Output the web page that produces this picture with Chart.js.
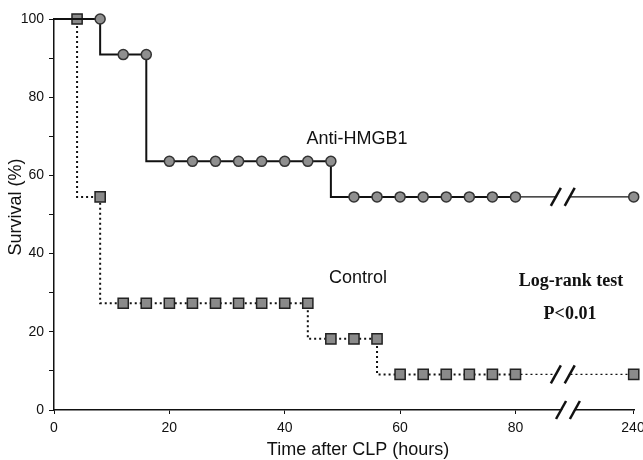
<!DOCTYPE html>
<html>
<head>
<meta charset="utf-8">
<script src="https://cdn.jsdelivr.net/npm/chart.js@4.4.1/dist/chart.umd.min.js"></script>
<style>
  html, body { margin: 0; padding: 0; background: #fff; overflow: hidden; }
  #graph { display: block; }
</style>
</head>
<body>
<canvas id="graph" width="643" height="460"></canvas>
<script>
// survival data (time in hours, survival in %)
const antiTimes = [0, 8, 12, 16, 20, 24, 28, 32, 36, 40, 44, 48, 52, 56, 60, 64, 68, 72, 76, 80, 240];
const antiSurvival = [100, 100, 90.9, 90.9, 63.6, 63.6, 63.6, 63.6, 63.6, 63.6, 63.6, 63.6,
                      54.5, 54.5, 54.5, 54.5, 54.5, 54.5, 54.5, 54.5, 54.5];
const controlTimes = [0, 4, 8, 12, 16, 20, 24, 28, 32, 36, 40, 44, 48, 52, 56, 60, 64, 68, 72, 76, 80, 240];
const controlSurvival = [100, 100, 54.5, 27.3, 27.3, 27.3, 27.3, 27.3, 27.3, 27.3, 27.3, 27.3,
                         18.2, 18.2, 18.2, 9.1, 9.1, 9.1, 9.1, 9.1, 9.1, 9.1];
const xTickValues = [0, 20, 40, 60, 80, 240];
const yTickValues = [0, 20, 40, 60, 80, 100];

//the axis is broken after 80 h, everything past it sits at the far right
const breakFrom = 80;
const tailPos = 100.5;
function axisPos(t) {
    return t <= breakFrom ? t : tailPos;
}

function toPoints(times, values) {
    return times.map((t, i) => ({ x: axisPos(t), y: values[i] }));
}

const sansFont = "'Liberation Sans', Arial, sans-serif";
const narrowFont = "'Liberation Sans Narrow', 'Liberation Sans', Arial, sans-serif";
const ink = "#111";

//draws the texts, x tick labels and the // break marks
const extrasPlugin = {
    id: "extras",
    afterDraw(chart) {
        const ctx = chart.ctx;
        const xs = chart.scales.x, ys = chart.scales.y;
        ctx.save();
        ctx.fillStyle = ink;
        ctx.textBaseline = "middle";
        ctx.textAlign = "center";

        // x tick labels
        ctx.font = "14px " + narrowFont;
        xTickValues.forEach(v => {
            let px = xs.getPixelForValue(axisPos(v));
            ctx.fillText(String(v), Math.min(px, 633), 428);
        });

        // axis titles
        ctx.font = "18px " + sansFont;
        ctx.fillText("Time after CLP (hours)", 358, 450);
        ctx.save();
        ctx.translate(16, 207);
        ctx.rotate(-Math.PI / 2);
        ctx.fillText("Survival (%)", 0, 0);
        ctx.restore();

        // curve labels
        ctx.fillText("Anti-HMGB1", 357, 139);
        ctx.fillText("Control", 358, 278);

        ctx.font = "bold 18px 'Liberation Serif', 'Times New Roman', serif";
        ctx.fillText("Log-rank test", 571, 281);
        ctx.fillText("P<0.01", 570, 314);

        // break marks on both curves and the x axis
        const lastAnti = antiSurvival[antiSurvival.length - 1];
        const lastControl = controlSurvival[controlSurvival.length - 1];
        drawBreak(ctx, xs.getPixelForValue(87), xs.getPixelForValue(89.4), ys.getPixelForValue(lastAnti));
        drawBreak(ctx, xs.getPixelForValue(87), xs.getPixelForValue(89.4), ys.getPixelForValue(lastControl));
        drawBreak(ctx, xs.getPixelForValue(87.9), xs.getPixelForValue(90.3), ys.getPixelForValue(0));
        ctx.restore();
    }
};

function drawBreak(ctx, x1, x2, y) {
    const dx = 5, dy = 9;
    // white gap between the two slashes
    ctx.fillStyle = "#fff";
    ctx.beginPath();
    ctx.moveTo(x1 - dx + 1, y + dy);
    ctx.lineTo(x1 + dx + 1, y - dy);
    ctx.lineTo(x2 + dx - 1, y - dy);
    ctx.lineTo(x2 - dx - 1, y + dy);
    ctx.closePath();
    ctx.fill();
    ctx.strokeStyle = ink;
    ctx.lineWidth = 2.5;
    [x1, x2].forEach(x => {
        ctx.beginPath();
        ctx.moveTo(x - dx, y + dy);
        ctx.lineTo(x + dx, y - dy);
        ctx.stroke();
    });
}

const ctx = document.getElementById("graph").getContext("2d");
new Chart(ctx, {
    type: "line",
    data: {
        datasets: [
            {
                label: "Anti-HMGB1",
                data: toPoints(antiTimes, antiSurvival),
                stepped: "after",
                borderColor: ink,
                borderWidth: 2,
                pointStyle: "circle",
                pointRadius: c => c.dataIndex === 0 ? 0 : 5,
                pointBackgroundColor: "#8f8f8f",
                pointBorderColor: "#333",
                pointBorderWidth: 1.5,
                segment: { borderWidth: c => c.p1.parsed.x > breakFrom ? 1.3 : 2 },
                clip: false
            },
            {
                label: "Control",
                data: toPoints(controlTimes, controlSurvival),
                stepped: "after",
                borderColor: ink,
                borderWidth: 2,
                borderDash: [2, 3],
                pointStyle: "rect",
                pointRadius: c => c.dataIndex === 0 ? 0 : 7.2,
                pointBackgroundColor: "#8a8a8a",
                pointBorderColor: "#222",
                pointBorderWidth: 1.5,
                segment: { borderWidth: c => c.p1.parsed.x > breakFrom ? 1.3 : 2 },
                clip: false
            }
        ]
    },
    options: {
        responsive: false,
        animation: false,
        devicePixelRatio: 1,
        layout: { padding: { left: 0, top: 19, right: 2, bottom: 0 } },
        plugins: {
            legend: { display: false },
            tooltip: { enabled: false }
        },
        scales: {
            x: {
                type: "linear",
                min: 0,
                max: 100.6,
                afterBuildTicks: s => { s.ticks = xTickValues.map(v => ({ value: axisPos(v) })); },
                afterFit: s => { s.height = 50; },
                ticks: { display: false },
                grid: { drawOnChartArea: false, tickLength: 4, color: ink },
                border: { color: ink, width: 1.5 }
            },
            y: {
                min: 0,
                max: 100,
                afterFit: s => { s.width = 54; },
                ticks: {
                    stepSize: 10,
                    padding: 5,
                    color: ink,
                    font: { size: 14, family: narrowFont },
                    callback: v => yTickValues.includes(v) ? String(v) : ""
                },
                grid: { drawOnChartArea: false, tickLength: 5, color: ink },
                border: { color: ink, width: 1.5 }
            }
        }
    },
    plugins: [extrasPlugin]
});
</script>
</body>
</html>
